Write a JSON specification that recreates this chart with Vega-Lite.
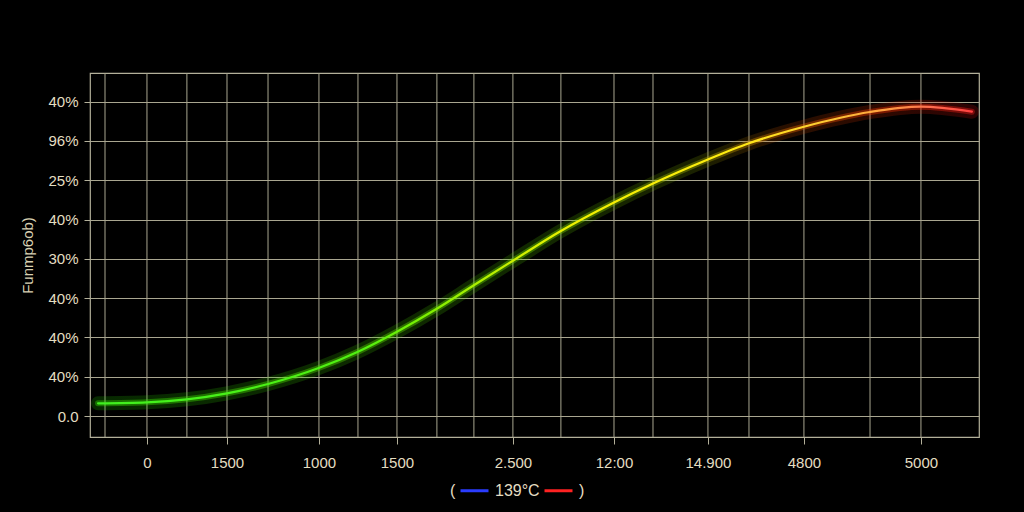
{
  "$schema": "https://vega.github.io/schema/vega-lite/v6.json",
  "width": 889,
  "height": 364,
  "autosize": {"type": "none"},
  "padding": {"left": 90, "top": 73, "right": 45, "bottom": 75},
  "background": "#000000",
  "config": {
    "view": {"stroke": "#b3b09a", "strokeWidth": 1.2},
    "font": "Liberation Sans",
    "axis": {
      "labelFont": "Liberation Sans",
      "labelFontSize": 15,
      "labelColor": "#e4ddc2",
      "titleFont": "Liberation Sans",
      "titleFontSize": 15,
      "titleFontWeight": "normal",
      "titleColor": "#d8d0b2",
      "tickColor": "#b3b09a",
      "gridColor": "#a9a690",
      "gridWidth": 1,
      "domain": false
    }
  },
  "layer": [
    {
      "data": {"values": [
        {"x": -271}, {"x": 0}, {"x": 258}, {"x": 517}, {"x": 782}, {"x": 1111}, {"x": 1363},
        {"x": 1615}, {"x": 1873}, {"x": 2112}, {"x": 2364}, {"x": 2674}, {"x": 3017},
        {"x": 3269}, {"x": 3624}, {"x": 3889}, {"x": 4244}, {"x": 4671}, {"x": 5000}
      ]},
      "mark": {"type": "rule", "color": "#a9a690", "strokeWidth": 1},
      "encoding": {
        "x": {
          "field": "x",
          "type": "quantitative",
          "scale": {"domain": [-368, 5375], "nice": false, "zero": false},
          "axis": {
            "title": null,
            "grid": false,
            "values": [0, 517, 1111, 1615, 2364, 3017, 3624, 4244, 5000],
            "labelExpr": "['0','1500','1000','1500','2.500','12:00','14.900','4800','5000'][indexof([0,517,1111,1615,2364,3017,3624,4244,5000], datum.value)]",
            "tickSize": 7,
            "labelPadding": 11,
            "labelFlush": false,
            "labelOverlap": false
          }
        }
      }
    },
    {
      "data": {"name": "curve", "values": [
        {"x": -316, "y": 0.323},
        {"x": 0, "y": 0.349},
        {"x": 258, "y": 0.425},
        {"x": 517, "y": 0.578},
        {"x": 782, "y": 0.814},
        {"x": 1105, "y": 1.214},
        {"x": 1363, "y": 1.636},
        {"x": 1615, "y": 2.145},
        {"x": 1867, "y": 2.715},
        {"x": 2119, "y": 3.346},
        {"x": 2364, "y": 3.952},
        {"x": 2668, "y": 4.695},
        {"x": 3017, "y": 5.433},
        {"x": 3269, "y": 5.916},
        {"x": 3624, "y": 6.527},
        {"x": 3889, "y": 6.939},
        {"x": 4244, "y": 7.361},
        {"x": 4671, "y": 7.735},
        {"x": 5000, "y": 7.870},
        {"x": 5329, "y": 7.743}
      ]},
      "encoding": {
        "x": {"field": "x", "type": "quantitative"},
        "y": {
          "field": "y",
          "type": "quantitative",
          "scale": {"domain": [-0.534, 8.728], "nice": false, "zero": false},
          "axis": {
            "title": "Funmp6ob)",
            "values": [0, 1, 2, 3, 4, 5, 6, 7, 8],
            "labelExpr": "['0.0','40%','40%','40%','30%','40%','25%','96%','40%'][datum.value]",
            "grid": true,
            "tickSize": 6,
            "labelPadding": 6,
            "titlePadding": 12
          }
        }
      },
      "layer": [
        {
          "mark": {
            "type": "line",
            "interpolate": "monotone",
            "strokeWidth": 14,
            "opacity": 0.2,
            "strokeCap": "round",
            "color": {
              "gradient": "linear", "x1": 0, "y1": 0, "x2": 1, "y2": 0,
              "stops": [
                {"offset": 0, "color": "#22d000"},
                {"offset": 0.5, "color": "#55c800"},
                {"offset": 0.68, "color": "#80a800"},
                {"offset": 0.78, "color": "#c85000"},
                {"offset": 0.88, "color": "#e03000"},
                {"offset": 1, "color": "#e01010"}
              ]
            }
          }
        },
        {
          "mark": {
            "type": "line",
            "interpolate": "monotone",
            "strokeWidth": 6,
            "opacity": 0.4,
            "strokeCap": "round",
            "color": {
              "gradient": "linear", "x1": 0, "y1": 0, "x2": 1, "y2": 0,
              "stops": [
                {"offset": 0, "color": "#30e000"},
                {"offset": 0.5, "color": "#70d800"},
                {"offset": 0.68, "color": "#a0b000"},
                {"offset": 0.8, "color": "#e06000"},
                {"offset": 0.9, "color": "#f03000"},
                {"offset": 1, "color": "#f01818"}
              ]
            }
          }
        },
        {
          "mark": {
            "type": "line",
            "interpolate": "monotone",
            "strokeWidth": 2.2,
            "strokeCap": "round",
            "color": {
              "gradient": "linear", "x1": 0, "y1": 0, "x2": 1, "y2": 0,
              "stops": [
                {"offset": 0, "color": "#40f020"},
                {"offset": 0.3, "color": "#50f010"},
                {"offset": 0.38, "color": "#80f000"},
                {"offset": 0.47, "color": "#c8f000"},
                {"offset": 0.55, "color": "#f0f000"},
                {"offset": 0.72, "color": "#ffec10"},
                {"offset": 0.82, "color": "#ffd030"},
                {"offset": 0.9, "color": "#ffa040"},
                {"offset": 0.95, "color": "#ff7050"},
                {"offset": 1, "color": "#ff4040"}
              ]
            }
          }
        }
      ]
    },
    {
      "data": {"values": [{"s": "139°C"}, {"s": ")"}]},
      "mark": {"type": "point", "filled": false, "opacity": 0},
      "encoding": {
        "color": {
          "field": "s",
          "type": "nominal",
          "scale": {"domain": ["139°C", ")"], "range": ["#2a3cff", "#ff2222"]},
          "legend": {
            "title": "(",
            "titleOrient": "left",
            "titleAnchor": "end",
            "titleBaseline": "bottom",
            "titleFontSize": 16,
            "titleFontWeight": "normal",
            "titleColor": "#e4ddc2",
            "titleFont": "Liberation Sans",
            "titlePadding": 3,
            "orient": "none",
            "direction": "horizontal",
            "legendX": 360,
            "legendY": 402,
            "symbolType": "stroke",
            "symbolSize": 784,
            "symbolStrokeWidth": 3,
            "symbolOpacity": 1,
            "labelFont": "Liberation Sans",
            "labelFontSize": 16,
            "labelColor": "#e4ddc2",
            "labelOffset": 5,
            "columnPadding": -2
          }
        }
      }
    }
  ]
}
